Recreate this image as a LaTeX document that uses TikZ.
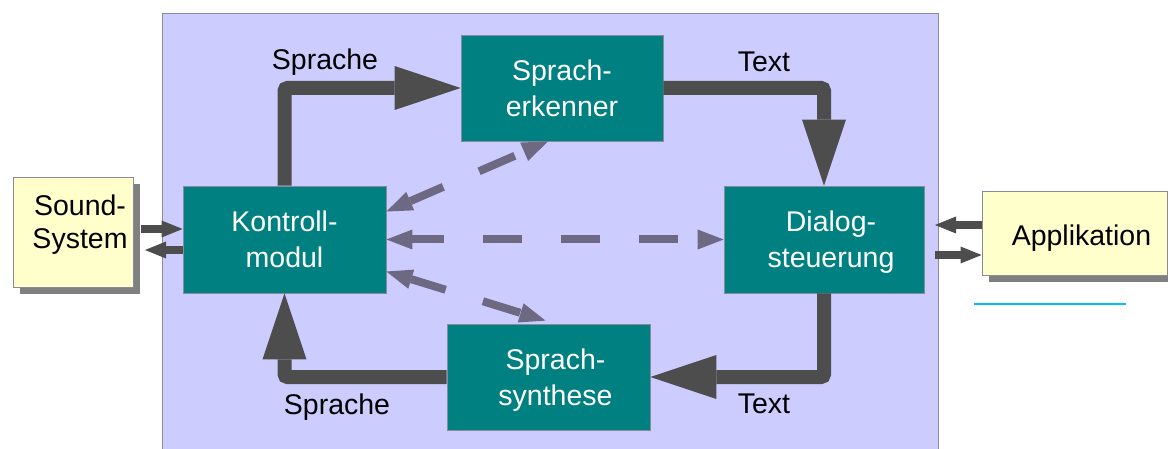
\documentclass[tikz,border=0pt]{standalone}
\usepackage{fontspec}
\setmainfont{Liberation Sans}
\usetikzlibrary{arrows.meta,shadows}
\definecolor{bgpurple}{HTML}{CCCCFF}
\definecolor{boxteal}{HTML}{008080}
\definecolor{boxborder}{HTML}{8A8A9A}
\definecolor{yellowbox}{HTML}{FFFFCC}
\definecolor{arrowgray}{HTML}{4D4D4D}
\definecolor{dashgray}{HTML}{6D6983}
\definecolor{shadowgray}{HTML}{808080}
\definecolor{cyanline}{HTML}{00BFFF}
\newcommand\rsh{\hspace*{14pt}}
\begin{document}
\begin{tikzpicture}[x=1pt,y=-1pt,
  every node/.style={font=\fontsize{28.5}{36}\selectfont},
  tealbox/.style={draw=boxborder, line width=0.8pt, fill=boxteal, text=white,
    align=center, inner sep=0pt, text depth=0pt},
  yelbox/.style={draw=boxborder, line width=0.8pt, fill=yellowbox, text=black,
    align=center, inner sep=0pt, text depth=0pt,
    copy shadow={shadow xshift=7pt, shadow yshift=-7pt, fill=shadowgray, draw=none}},
  lbl/.style={anchor=base, inner sep=0pt, text=black},
  thickarrow/.style={draw=arrowgray, line width=14pt, rounded corners=3pt,
    -{Triangle[length=66pt,width=44pt,line width=0pt]}},
  dasharrow/.style={draw=dashgray, line width=8pt,
    dash pattern=on 39pt off 39pt,
    {Triangle[length=26pt,width=20pt,line width=0pt]}-{Triangle[length=26pt,width=20pt,line width=0pt]}},
  smallarrow/.style={draw=arrowgray, line width=8pt,
    -{Triangle[length=21pt,width=17pt,line width=0pt]}}
]
\useasboundingbox (0,0) rectangle (1168,449);
% background panel
\path[fill=bgpurple, draw=boxborder, line width=1pt] (162,14) rectangle (938,460);

% boxes
\node[tealbox, minimum width=202pt, minimum height=106pt] (erk) at (562,88) {Sprach-\\erkenner};
\node[tealbox, minimum width=203pt, minimum height=107pt] (kon) at (284.5,239.5) {Kontroll-\\modul};
\node[tealbox, minimum width=200pt, minimum height=107pt] (dia) at (824,239.5) {\rsh Dialog-\\\rsh steuerung};
\node[tealbox, minimum width=203pt, minimum height=106pt] (syn) at (548.5,377) {\rsh Sprach-\\\rsh synthese};
\node[yelbox, minimum width=120pt, minimum height=110pt, text height=33pt,
  font=\fontsize{28.5}{33}\selectfont] (sound) at (73,232) {\rsh Sound-\\\rsh System};
\node[yelbox, minimum width=185pt, minimum height=84pt, text height=26pt] (app) at (1074.5,233) {\rsh Applikation};

% thick arrows
\draw[thickarrow] (kon.north) |- (erk.west);
\draw[thickarrow] (erk.east) -| (dia.north);
\draw[thickarrow] (dia.south) |- (syn.east);
\draw[thickarrow] (syn.west) -| (kon.south);

% dashed arrows
\draw[dasharrow, dash phase=7pt] (kon.east) -- (dia.west);
\draw[dasharrow, dash phase=3pt] ([yshift=28pt]kon.east) -- ([xshift=-14pt]erk.south);
\draw[dasharrow, dash phase=3pt] ([yshift=-32pt]kon.east) -- ([xshift=-3pt,yshift=3pt]syn.north);

% small arrows
\coordinate (s1) at (141,229);
\coordinate (s2) at (145,250);
\coordinate (a1) at (935,225);
\coordinate (a2) at (935,255);
\draw[smallarrow] (s1) -- (kon.west |- s1);
\draw[smallarrow] (kon.west |- s2) -- (s2);
\draw[smallarrow] (app.west |- a1) -- (a1);
\draw[smallarrow] (a2) -- (app.west |- a2);

% labels
\node[lbl] (l1) at (325,70) {Sprache};
\node[lbl] (l2) at (764,72) {Text};
\node[lbl] (l3) at (764,413) {Text};
\node[lbl] (l4) at (337,414) {Sprache};

% cyan line
\coordinate (c1) at (974,304);
\coordinate (c2) at (1126,304);
\draw[cyanline, line width=1.5pt] (c1) -- (c2);
\end{tikzpicture}
\end{document}
